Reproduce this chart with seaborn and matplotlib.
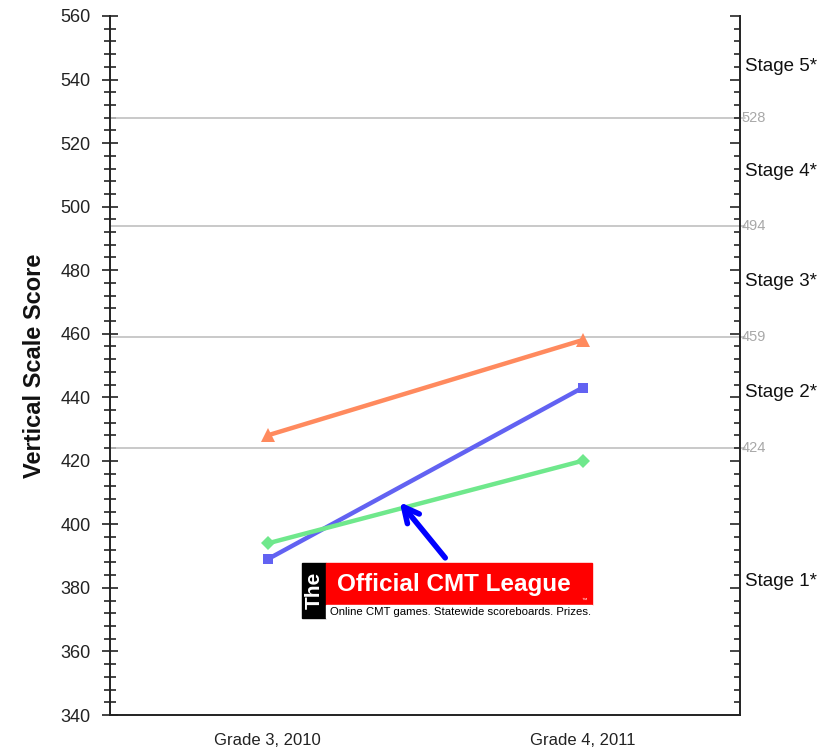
"""Vertical scale score chart, grade 3 to grade 4, with stage cut lines."""

import matplotlib
matplotlib.use("Agg")

import matplotlib.pyplot as plt
from matplotlib.patches import Rectangle
from matplotlib.ticker import MultipleLocator
import pandas as pd
import seaborn as sns

# ── Data ────────────────────────────────────────────────────────────
grades = ["Grade 3, 2010", "Grade 4, 2011"]
series_names = ["Orange", "Blue", "Green"]
orange_scores = [428, 458]
blue_scores = [389, 443]
green_scores = [394, 420]
cut_scores = [424, 459, 494, 528]
stage_labels = ["Stage 1*", "Stage 2*", "Stage 3*", "Stage 4*", "Stage 5*"]
y_min, y_max = 340, 560

colors = {"Orange": "#FF8A5E", "Blue": "#6262F2", "Green": "#6FE88C"}
markers = {"Orange": "^", "Blue": "s", "Green": "D"}
msizes = {"Orange": 10, "Blue": 7.5, "Green": 7.5}

df = pd.DataFrame({
    "grade": grades * 3,
    "score": orange_scores + blue_scores + green_scores,
    "series": [s for s in series_names for _ in grades],
})
df["pos"] = df["grade"].map({g: i for i, g in enumerate(grades)})

sns.set_style("white")
plt.rcParams["font.family"] = ["Liberation Sans", "DejaVu Sans"]

W, H = 839, 753
fig = plt.figure(figsize=(W / 100, H / 100), dpi=100)
ax = fig.add_axes([110 / W, 1 - 715 / H, 630 / W, 699 / H])

# cut lines, running a bit past the right axis
for c in cut_scores:
    ax.plot([-0.5, 1.515], [c, c], color="#c0c0c0", lw=1.2, clip_on=False, zorder=1)
    ax.text(1.506, c, str(c), color="#a8a8a8", fontsize=10.5, va="center", ha="left")

bounds = [y_min] + cut_scores + [y_max]
for lab, lo, hi in zip(stage_labels, bounds[:-1], bounds[1:]):
    ax.text(1.515, (lo + hi) / 2, lab, color="#111111", fontsize=13.5, va="center", ha="left")

for name in series_names:
    sub = df[df["series"] == name]
    sns.lineplot(
        data=sub, x="pos", y="score", ax=ax, color=colors[name],
        lw=3.2, marker=markers[name], markersize=msizes[name],
        markeredgewidth=0, legend=False, zorder=3,
    )

ax.set_xlim(-0.5, 1.5)
ax.set_ylim(y_min, y_max)
ax.set_xticks(range(len(grades)))
ax.set_xticklabels(grades, fontsize=12)
ax.set_xlabel("")
ax.set_ylabel("Vertical Scale Score", fontsize=17, fontweight="bold", labelpad=10,
              color="#111111")

ax.yaxis.set_major_locator(MultipleLocator(20))
ax.yaxis.set_minor_locator(MultipleLocator(4))
ax.tick_params(axis="y", which="major", direction="inout", length=12, width=1.2,
               labelsize=13, colors="#222222", pad=8)
ax.tick_params(axis="y", which="minor", direction="inout", length=8, width=1.2, left=True)
ax.tick_params(axis="x", which="major", direction="inout", length=14, width=1.2,
               labelsize=12, colors="#222222", pad=6)

for side in ["left", "bottom", "right"]:
    ax.spines[side].set_color("#222222")
    ax.spines[side].set_linewidth(1.4)
ax.spines["top"].set_visible(False)

# right axis ticks
rax = ax.twinx()
rax.set_ylim(y_min, y_max)
rax.yaxis.set_major_locator(MultipleLocator(20))
rax.yaxis.set_minor_locator(MultipleLocator(4))
rax.tick_params(axis="y", which="major", direction="in", length=7, width=1.2, labelright=False)
rax.tick_params(axis="y", which="minor", direction="in", length=4, width=1.2)
for side in rax.spines:
    rax.spines[side].set_visible(False)

# arrow pointing at the blue line
ax.annotate(
    "", xy=(398 / W, 1 - 500 / H), xycoords="figure fraction",
    xytext=(447 / W, 1 - 560 / H), textcoords="figure fraction",
    arrowprops=dict(arrowstyle="->,head_length=1.1,head_width=0.55",
                    color="#0000FF", lw=4),
)

# logo banner
fig.add_artist(Rectangle((302 / W, 1 - 618 / H), 24 / W, 55 / H,
                         transform=fig.transFigure, color="black", zorder=6))
fig.add_artist(Rectangle((326 / W, 1 - 605 / H), 266 / W, 42 / H,
                         transform=fig.transFigure, color="#FF0000", zorder=6))
fig.add_artist(Rectangle((326 / W, 1 - 618 / H), 266 / W, 13 / H,
                         transform=fig.transFigure, color="white", zorder=6))
fig.text(314 / W, 1 - 590 / H, "The", rotation=90, color="white", fontsize=15,
         fontweight="bold", ha="center", va="center", zorder=7)
fig.text(454 / W, 1 - 584 / H, "Official CMT League", color="white", fontsize=17.5,
         fontweight="bold", ha="center", va="center", zorder=7)
fig.text(584 / W, 1 - 600 / H, "™", color="white", fontsize=4, ha="center",
         va="center", zorder=7)
fig.text(330 / W, 1 - 612 / H, "Online CMT games. Statewide scoreboards. Prizes.",
         color="black", fontsize=8.2, ha="left", va="center", zorder=7)

fig.savefig("out.png", dpi=100)
plt.close(fig)
